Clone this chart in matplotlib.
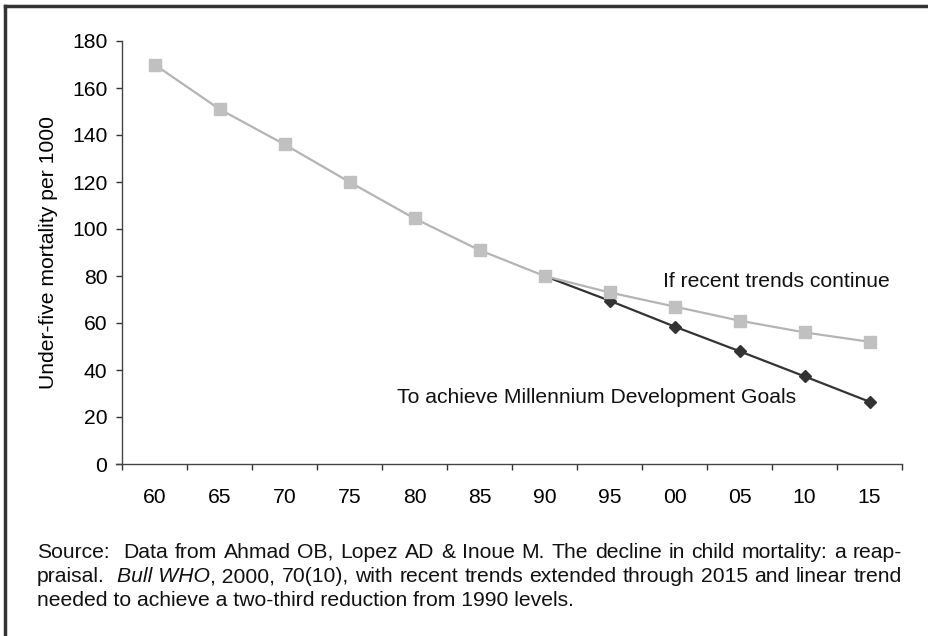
import matplotlib
matplotlib.use("Agg")
import matplotlib.pyplot as plt
from matplotlib.lines import Line2D

plt.rcParams['font.family'] = ['Liberation Sans', 'DejaVu Sans']

categories = ["60", "65", "70", "75", "80", "85", "90", "95", "00", "05", "10", "15"]
recent_trends = [170, 151, 136, 120, 104.5, 91, 80, 73, 67, 61, 56, 52]
mdg_categories = ["90", "95", "00", "05", "10", "15"]
mdg_values = [80, 69.5, 58.5, 48, 37.3, 26.5]
y_ticks = [0, 20, 40, 60, 80, 100, 120, 140, 160, 180]

W, H = 929, 636
fig = plt.figure(figsize=(W / 100, H / 100), dpi=100)
ax = fig.add_axes([122 / W, 1 - 464 / H, (902 - 122) / W, (464 - 41) / H])

xi = {c: i for i, c in enumerate(categories)}
mdg_x = [xi[c] for c in mdg_categories]
rec_x = [xi[c] for c in categories]

ax.plot(mdg_x, mdg_values, color='#333333', lw=1.6, marker='D', ms=6.5,
        markerfacecolor='#333333', markeredgecolor='#333333', zorder=3)
ax.plot(rec_x, recent_trends, color='#b4b4b4', lw=1.6, marker='s', ms=8.5,
        markerfacecolor='#c0c0c0', markeredgecolor='#c0c0c0', zorder=4)

FS = 15.2
ax.set_xlim(-0.5, len(categories) - 0.5)
ax.set_ylim(0, 180)
ax.set_yticks(y_ticks)
ax.set_yticklabels([str(v) for v in y_ticks], fontsize=FS)
ax.set_xticks([i - 0.5 for i in range(len(categories) + 1)])
ax.set_xticklabels([])
ax.set_xticks(range(len(categories)), minor=True)
ax.set_xticklabels(categories, minor=True, fontsize=FS)
ax.tick_params(axis='x', which='minor', length=0, pad=17)
ax.tick_params(axis='x', which='major', length=4.5, width=1, color='#333333', direction='out')
ax.tick_params(axis='y', length=4.5, width=1, color='#333333', pad=6)
for s in ['top', 'right']:
    ax.spines[s].set_visible(False)
for s in ['left', 'bottom']:
    ax.spines[s].set_color('#444444')
    ax.spines[s].set_linewidth(1.0)
ax.spines['bottom'].set_bounds(-0.6, len(categories) - 0.5)
ax.set_ylabel("Under-five mortality per 1000", fontsize=FS, labelpad=10)

ax.text(7.82, 77.5, "If recent trends continue", fontsize=FS, ha='left', va='center', color='#111111')
ax.text(3.73, 28.5, "To achieve Millennium Development Goals", fontsize=FS, ha='left', va='center', color='#111111')

# Source note, justified (gap weights: 2 = double space, 0 = no space)
lines = [
    (["Source:", "Data", "from", "Ahmad", "OB,", "Lopez", "AD", "&", "Inoue", "M.", "The",
      "decline", "in", "child", "mortality:", "a", "reap-"],
     ['normal'] * 17, [2] + [1] * 15, True),
    (["praisal.", "Bull WHO", ", 2000,", "70(10),", "with", "recent", "trends", "extended",
      "through", "2015", "and", "linear", "trend"],
     ['normal', 'italic'] + ['normal'] * 11, [2, 0] + [1] * 10, True),
    (["needed to achieve a two-third reduction from 1990 levels."], ['normal'], [], False),
]
x0, x1 = 37, 902
ys = [552, 577, 601]
SFS = 15.2
fig.canvas.draw()
r = fig.canvas.get_renderer()
sp = fig.text(0, 0, "a b", fontsize=SFS)
sp_w = sp.get_window_extent(r).width
sp.set_text("ab")
sp_w -= sp.get_window_extent(r).width
sp.remove()
for (words, styles, gaps, justify), y in zip(lines, ys):
    texts = [fig.text(0, 1 - y / H, w, fontsize=SFS, style=st, va='center', ha='left', color='#111111')
             for w, st in zip(words, styles)]
    widths = [t.get_window_extent(r).width for t in texts]
    if justify:
        g = ((x1 - x0) - sum(widths)) / max(sum(gaps), 1)
    else:
        g = sp_w
    x = x0
    for k, t in enumerate(texts):
        if k > 0:
            x += gaps[k - 1] * g
        t.set_x(x / W)
        x += widths[k]

# frame on left and top
fig.add_artist(Line2D([5.5 / W, 5.5 / W], [0, 1 - 5.5 / H], color='#333333', lw=2.5, transform=fig.transFigure))
fig.add_artist(Line2D([5.5 / W, 1], [1 - 5.5 / H, 1 - 5.5 / H], color='#333333', lw=2.5, transform=fig.transFigure))

fig.savefig("out.png", dpi=100)
